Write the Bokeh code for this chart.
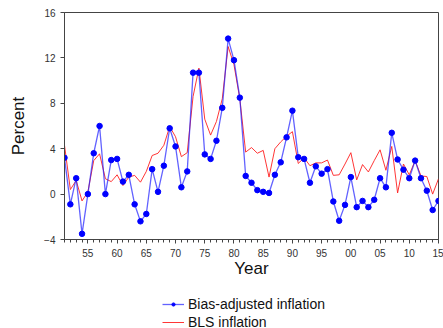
from bokeh.plotting import figure
from bokeh.layouts import column
from bokeh.models import Range1d, FixedTicker, Legend, LegendItem, ColumnDataSource
from bokeh.embed import file_html
from bokeh.resources import INLINE

years = list(range(1951, 2016))
bias_adjusted = [3.2, -0.9, 1.4, -3.5, 0.0, 3.6, 6.0, 0.0, 3.0, 3.1,
                 1.1, 1.7, -0.9, -2.4, -1.75, 2.2, 0.2, 2.5, 5.8, 4.2,
                 0.6, 2.0, 10.7, 10.7, 3.5, 3.1, 4.7, 7.6, 13.7, 11.8,
                 8.5, 1.6, 1.0, 0.35, 0.2, 0.1, 1.7, 2.8, 5.0, 7.35,
                 3.25, 3.1, 1.0, 2.45, 1.8, 2.2, -0.65, -2.35, -0.95, 1.5,
                 -1.15, -0.6, -1.15, -0.5, 1.4, 0.6, 5.4, 3.05, 2.15, 1.4,
                 2.95, 1.4, 0.3, -1.4, -0.6]
bls = [4.3, 0.4, 1.2, -0.6, 0.2, 2.95, 3.55, 1.35, 1.1, 1.7,
       0.75, 1.5, 1.65, 1.05, 2.0, 3.4, 3.6, 4.3, 5.95, 5.05,
       3.3, 3.65, 8.6, 11.1, 6.6, 5.2, 6.4, 8.4, 13.0, 11.4,
       8.4, 3.7, 4.1, 3.6, 3.85, 1.5, 4.0, 4.6, 5.1, 5.5,
       2.7, 3.2, 2.5, 2.75, 2.75, 3.0, 1.65, 1.7, 2.65, 3.65,
       1.25, 2.6, 1.95, 2.95, 3.9, 2.1, 4.2, 0.1, 2.65, 1.7,
       2.95, 1.6, 1.55, 0.0, 1.35]
series_names = ["Bias-adjusted inflation", "BLS inflation"]
tick_years = [1955, 1960, 1965, 1970, 1975, 1980, 1985, 1990, 1995, 2000, 2005, 2010, 2015]
tick_labels = ["55", "60", "65", "70", "75", "80", "85", "90", "95", "00", "05", "10", "15"]
y_ticks = [-4, 0, 4, 8, 12, 16]

BLUE_LINE = dict(line_color="#2020ff", line_width=1.3, line_alpha=0.7)
RED_LINE = dict(line_color="#ff2020", line_width=1, line_alpha=0.9)
DOT = dict(size=5.5, fill_color="blue", line_color="blue")

src = ColumnDataSource(dict(year=years, bias=bias_adjusted, bls=bls))

p = figure(output_backend="svg", toolbar_location=None,
           frame_width=374, frame_height=227,
           min_border_left=64, min_border_right=5, min_border_top=12, min_border_bottom=45,
           x_range=Range1d(1951, 2015), y_range=Range1d(-4, 16))
p.background_fill_color = "white"
p.outline_line_color = "#444444"
p.outline_line_width = 1
p.xgrid.visible = False
p.ygrid.visible = False

p.line("year", "bls", source=src, **RED_LINE)
p.line("year", "bias", source=src, **BLUE_LINE)
p.scatter("year", "bias", source=src, **DOT)

xa = p.xaxis[0]
xa.ticker = FixedTicker(ticks=tick_years, minor_ticks=years)
xa.major_label_overrides = {y: l for y, l in zip(tick_years, tick_labels)}
xa.axis_label = "Year"
ya = p.yaxis[0]
ya.ticker = FixedTicker(ticks=y_ticks)
ya.axis_label = "Percent"

for ax in (xa, ya):
    ax.axis_line_color = "#444444"
    ax.major_tick_line_color = "#444444"
    ax.minor_tick_line_color = "#444444"
    ax.major_tick_in = 0
    ax.major_tick_out = 4
    ax.minor_tick_in = 0
    ax.minor_tick_out = 3
    ax.major_label_text_font = "Liberation Sans"
    ax.major_label_text_font_size = "10px"
    ax.major_label_text_color = "#333333"
    ax.axis_label_text_font = "Liberation Sans"
    ax.axis_label_text_font_size = "17px"
    ax.axis_label_text_font_style = "normal"
    ax.axis_label_text_color = "#111111"
ya.minor_tick_line_color = None
xa.major_label_standoff = 5
xa.axis_label_standoff = -1
ya.major_label_standoff = 5
ya.axis_label_standoff = 13

# legend strip below the chart (same series, ranges chosen so the data stays out of view)
lf = figure(output_backend="svg", toolbar_location=None,
            width=443, height=44, min_border=0,
            x_axis_type=None, y_axis_type=None,
            x_range=Range1d(0, 1), y_range=Range1d(100, 101))
lf.outline_line_color = None
lf.xgrid.visible = False
lf.ygrid.visible = False
lb = lf.line("year", "bias", source=src, **BLUE_LINE)
ld = lf.scatter("year", "bias", source=src, size=3, fill_color="blue", line_color="blue")
lr = lf.line("year", "bls", source=src, **RED_LINE)

legend = Legend(items=[LegendItem(label=series_names[0], renderers=[lb, ld]),
                       LegendItem(label=series_names[1], renderers=[lr])],
                location=(98, -2), orientation="vertical")
legend.border_line_alpha = 0
legend.background_fill_alpha = 0
legend.label_text_font = "Liberation Sans"
legend.label_text_font_size = "14px"
legend.label_text_color = "#111111"
legend.glyph_width = 22
legend.glyph_height = 8
legend.label_height = 17
legend.label_standoff = 4
legend.spacing = 1
legend.padding = 0
legend.margin = 0
lf.add_layout(legend, "center")

layout = column(p, lf, spacing=0)
open("out.html", "w").write(file_html(layout, INLINE))
